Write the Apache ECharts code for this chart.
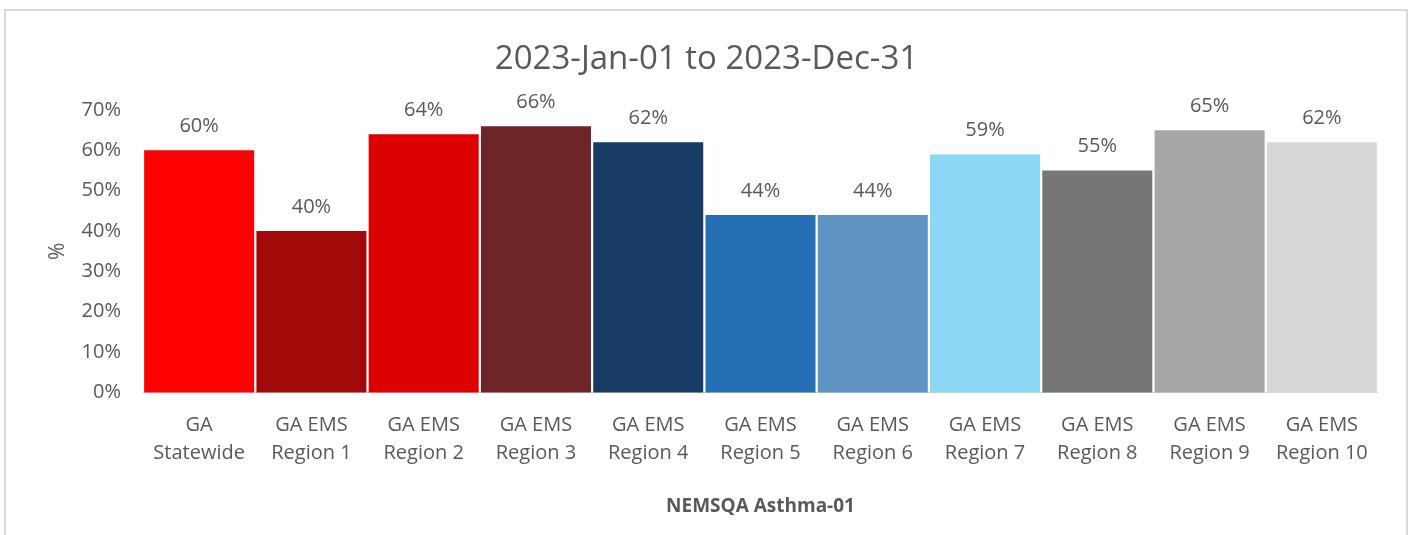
<!DOCTYPE html>
<html>
<head>
<meta charset="utf-8">
<script src="https://cdn.jsdelivr.net/npm/echarts@6/dist/echarts.min.js"></script>
<style>
html,body{margin:0;padding:0;background:#fff;}
#chart{width:1413px;height:535px;}
</style>
</head>
<body>
<div id="chart"></div>
<script>
const categories = ['GA\nStatewide','GA EMS\nRegion 1','GA EMS\nRegion 2','GA EMS\nRegion 3','GA EMS\nRegion 4','GA EMS\nRegion 5','GA EMS\nRegion 6','GA EMS\nRegion 7','GA EMS\nRegion 8','GA EMS\nRegion 9','GA EMS\nRegion 10'];
const values = [60, 40, 64, 66, 62, 44, 44, 59, 55, 65, 62];
const barColors = ['#FF0000','#A20A0A','#DC0000','#6E2528','#173B63','#2570B4','#5E93C2','#8CD7F4','#767676','#A6A6A6','#D8D8D8'];
const titleText = '2023-Jan-01 to 2023-Dec-31';
const xAxisName = 'NEMSQA Asthma-01';
const yAxisName = '%';

const FONT = '"Open Sans", sans-serif';
const TXT = '#595959';

const chart = echarts.init(document.getElementById('chart'), null, {renderer:'canvas'});
chart.setOption({
  animation: false,
  backgroundColor: '#fff',
  graphic: [{
    type: 'rect', silent: true, z: -10,
    shape: {x: 5, y: 10, width: 1402, height: 600},
    style: {fill: 'none', stroke: '#D9D9D9', lineWidth: 2}
  }],
  title: {
    text: titleText, left: 'center', top: 38,
    textStyle: {fontFamily: FONT, fontSize: 33, fontWeight: 'normal', color: TXT}
  },
  grid: {left: 143, right: 35, top: 110, bottom: 142.5, containLabel: false},
  xAxis: {
    type: 'category', data: categories,
    name: xAxisName, nameLocation: 'middle', nameGap: 105,
    nameTextStyle: {fontFamily: FONT, fontSize: 19, fontWeight: 'bold', color: TXT},
    axisLine: {show: true, lineStyle: {color: '#D9D9D9', width: 1}},
    axisTick: {show: false},
    axisLabel: {fontFamily: FONT, fontSize: 20, color: TXT, lineHeight: 28, margin: 19, interval: 0}
  },
  yAxis: {
    type: 'value', min: 0, max: 70, interval: 10,
    name: yAxisName, nameLocation: 'middle', nameGap: 74, nameRotate: 90,
    nameTextStyle: {fontFamily: FONT, fontSize: 21, color: TXT},
    axisLine: {show: false}, axisTick: {show: false}, splitLine: {show: false},
    axisLabel: {fontFamily: FONT, fontSize: 20, color: TXT, margin: 22, formatter: '{value}%'}
  },
  series: [{
    type: 'bar',
    barCategoryGap: '2%',
    data: values.map((v, i) => ({value: v, itemStyle: {color: barColors[i]}})),
    label: {
      show: true, position: 'top', distance: 14,
      fontFamily: FONT, fontSize: 20, color: TXT, formatter: '{c}%'
    }
  }]
});
</script>
</body>
</html>
